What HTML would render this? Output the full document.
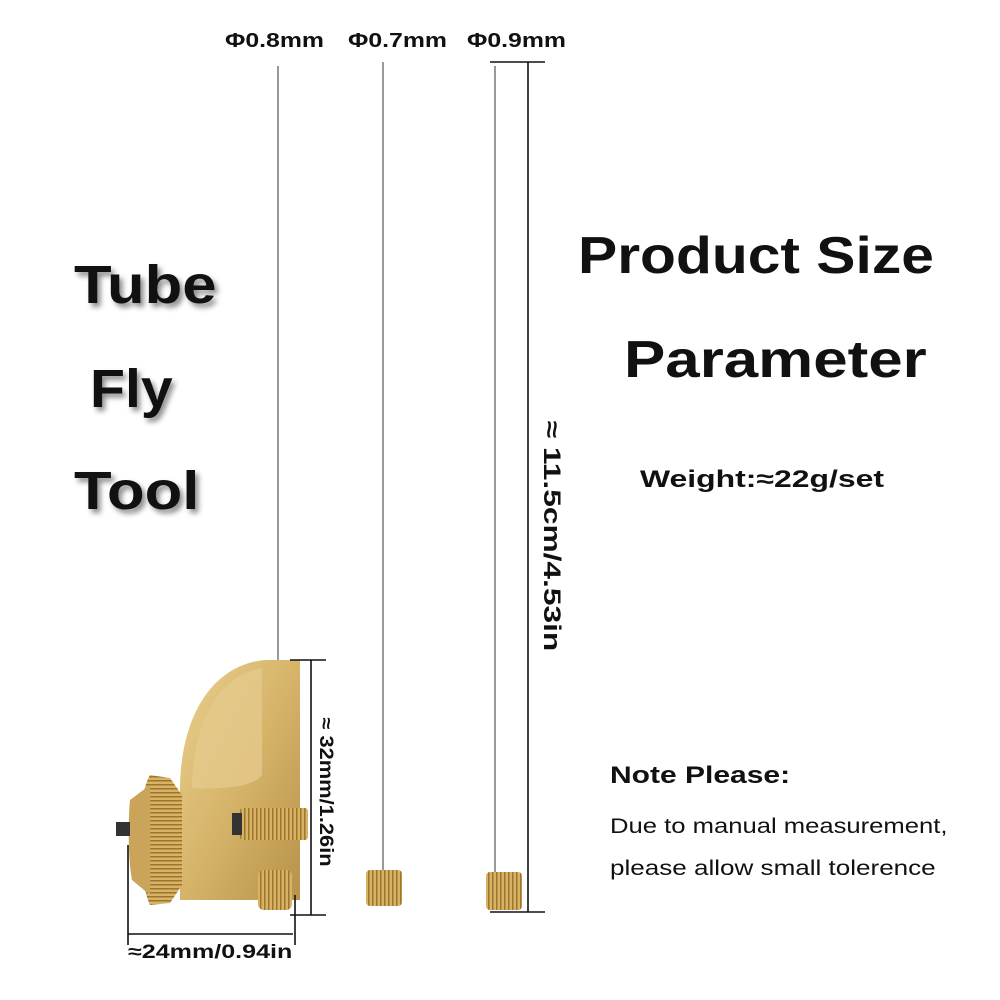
<!DOCTYPE html>
<html><head><meta charset="utf-8"><style>
html,body{margin:0;padding:0;background:#fff;}
#c{position:relative;width:1000px;height:1000px;overflow:hidden;font-family:"Liberation Sans","DejaVu Sans",sans-serif;color:#111;}
.t{position:absolute;white-space:nowrap;transform-origin:0 0;}
.big{font-weight:bold;font-size:54px;text-shadow:3px 4px 5px rgba(0,0,0,.45);}
.ps{font-weight:bold;font-size:52px;}
</style></head><body><div id="c">
<svg width="1000" height="1000" style="position:absolute;left:0;top:0">
<defs>
<linearGradient id="br" x1="0" y1="0" x2="1" y2="1"><stop offset="0" stop-color="#e9cf8e"/><stop offset=".5" stop-color="#d6b46a"/><stop offset="1" stop-color="#b8924a"/></linearGradient>
<pattern id="kp" width="4" height="4" patternUnits="userSpaceOnUse"><rect width="4" height="4" fill="#d8b363"/><rect width="1.5" height="4" fill="#9c7630"/></pattern>
<pattern id="kh" width="4" height="4" patternUnits="userSpaceOnUse"><rect width="4" height="4" fill="#d8b363"/><rect width="4" height="1.5" fill="#9c7630"/></pattern>
</defs>
<g stroke="#999" stroke-width="2">
<line x1="278" y1="66" x2="278" y2="662"/>
<line x1="383" y1="62" x2="383" y2="872"/>
<line x1="495" y1="66" x2="495" y2="874"/>
</g>
<rect x="366" y="870" width="36" height="36" rx="4" fill="url(#kp)"/>
<rect x="486" y="872" width="36" height="38" rx="4" fill="url(#kp)"/>
<path d="M265 660 L300 660 L300 900 L180 900 L180 790 C180 720 210 665 265 660 Z" fill="url(#br)"/>
<path d="M192 780 C195 720 220 675 262 668 L262 775 C255 785 230 790 192 788 Z" fill="#e5c98c" opacity=".8"/>
<rect x="258" y="870" width="34" height="40" rx="6" fill="url(#kp)"/>
<rect x="240" y="808" width="68" height="32" rx="3" fill="url(#kp)"/>
<rect x="232" y="813" width="10" height="22" fill="#333"/>
<path d="M150 775 L170 778 L182 795 L182 885 L170 903 L150 905 C138 880 135 800 150 775 Z" fill="url(#kh)"/>
<path d="M130 800 C128 820 128 860 132 880 L150 895 L150 785 Z" fill="#c9a45a"/>
<rect x="116" y="822" width="14" height="14" fill="#333"/>
<g stroke="#111" stroke-width="1.6" fill="none">
<line x1="311" y1="660" x2="311" y2="915"/>
<line x1="290" y1="660" x2="326" y2="660"/>
<line x1="290" y1="915" x2="326" y2="915"/>
<line x1="528" y1="62" x2="528" y2="912"/>
<line x1="490" y1="62" x2="545" y2="62"/>
<line x1="490" y1="912" x2="545" y2="912"/>
<line x1="128" y1="845" x2="128" y2="945"/>
<line x1="295" y1="895" x2="295" y2="945"/>
<line x1="128" y1="934" x2="293" y2="934"/>
</g>
</svg>
<div class="t" style="left:225px;top:30px;font-size:20px;font-weight:bold;transform:scaleX(1.24)">Φ0.8mm</div>
<div class="t" style="left:348px;top:30px;font-size:20px;font-weight:bold;transform:scaleX(1.24)">Φ0.7mm</div>
<div class="t" style="left:467px;top:30px;font-size:20px;font-weight:bold;transform:scaleX(1.24)">Φ0.9mm</div>
<div class="t big" style="left:74px;top:254px;transform:scaleX(1.14)">Tube</div>
<div class="t big" style="left:90px;top:358px;transform:scaleX(1.06)">Fly</div>
<div class="t big" style="left:74px;top:460px;transform:scaleX(1.14)">Tool</div>
<div class="t ps" style="left:578px;top:226px;transform:scaleX(1.13)">Product Size</div>
<div class="t ps" style="left:624px;top:330px;transform:scaleX(1.19)">Parameter</div>
<div class="t" style="left:640px;top:466px;font-size:24px;font-weight:bold;transform:scaleX(1.33)">Weight:≈22g/set</div>
<div class="t" style="left:610px;top:762px;font-size:24px;font-weight:bold;transform:scaleX(1.25)">Note Please:</div>
<div class="t" style="left:610px;top:815px;font-size:21px;transform:scaleX(1.22)">Due to manual measurement,</div>
<div class="t" style="left:610px;top:857px;font-size:21px;transform:scaleX(1.24)">please allow small tolerence</div>
<div class="t" style="left:128px;top:942px;font-size:19px;font-weight:bold;transform:scaleX(1.32)">≈24mm/0.94in</div>
<div class="t" style="left:325px;top:792px;font-size:19px;font-weight:bold;transform-origin:50% 50%;transform:translate(-50%,-50%) rotate(90deg) scaleX(1.15)">≈ 32mm/1.26in</div>
<div class="t" style="left:551px;top:536px;font-size:24px;font-weight:bold;transform-origin:50% 50%;transform:translate(-50%,-50%) rotate(90deg) scaleX(1.32)">≈ 11.5cm/4.53in</div>
</div></body></html>
